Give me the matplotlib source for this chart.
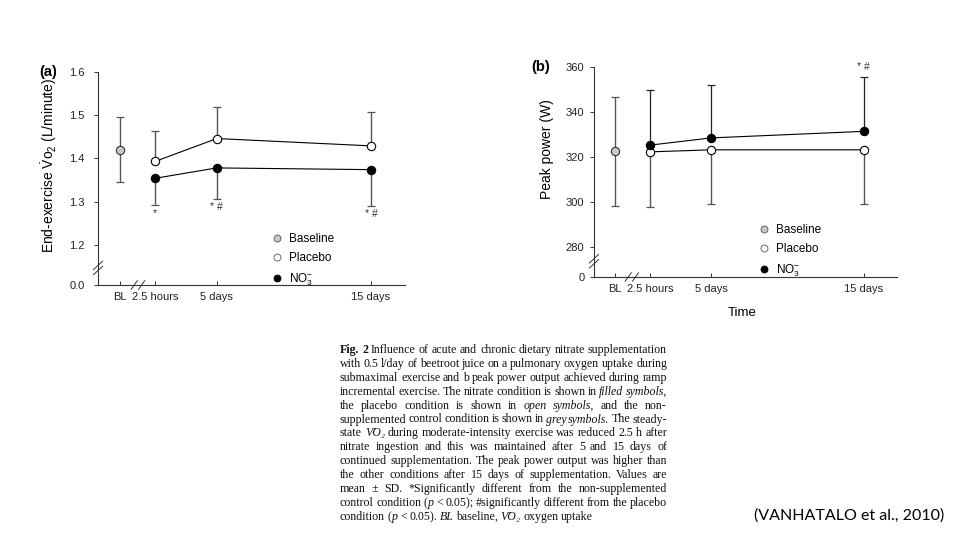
import matplotlib
matplotlib.use("Agg")
import matplotlib.pyplot as plt
from matplotlib.lines import Line2D

plt.rcParams['font.family'] = ['Liberation Sans', 'DejaVu Sans']
plt.rcParams['mathtext.fontset'] = 'custom'
plt.rcParams['mathtext.rm'] = 'Liberation Sans'
plt.rcParams['mathtext.it'] = 'Liberation Sans:italic'

# ---------------- data ----------------
time_labels = ['BL', '2.5 hours', '5 days', '15 days']
bl_x = -1.3            # baseline sits left of the axis break
time_x = [1, 5, 15]    # roughly days after start

# (a) end-exercise VO2 (L/min)
a_base, a_base_sd = 1.42, 0.075
a_plac = [1.393, 1.446, 1.429]
a_plac_sd = [0.070, 0.072, 0.079]
a_no3 = [1.354, 1.378, 1.374]
a_no3_sd = [0.062, 0.072, 0.083]
a_marks = ['*', '* #', '* #']
a_yticks = [1.2, 1.3, 1.4, 1.5, 1.6]

# (b) peak power (W)
b_base, b_base_sd = 322.5, 24.3
b_plac = [322.3, 323.2, 323.2]
b_plac_sd = [24.3, 24.2, 24.2]
b_no3 = [325.3, 328.5, 331.4]
b_no3_sd = [24.6, 23.6, 24.0]
b_marks = ['', '', '* #']
b_yticks = [280, 300, 320, 340, 360]

# ~ starts italic, ^ starts bold (inside one word)
caption = [
    "^Fig. ^2 Influence of acute and chronic dietary nitrate supplementation",
    "with 0.5 l/day of beetroot juice on a pulmonary oxygen uptake during",
    "submaximal exercise and b peak power output achieved during ramp",
    "incremental exercise. The nitrate condition is shown in ~filled ~symbols,",
    "the placebo condition is shown in ~open ~symbols, and the non-",
    "supplemented control condition is shown in ~grey ~symbols. The steady-",
    "state ~V\u0307O\u2082 during moderate-intensity exercise was reduced 2.5 h after",
    "nitrate ingestion and this was maintained after 5 and 15 days of",
    "continued supplementation. The peak power output was higher than",
    "the other conditions after 15 days of supplementation. Values are",
    "mean \u00b1 SD. *Significantly different from the non-supplemented",
    "control condition (~p < 0.05); #significantly different from the placebo",
    "condition (~p < 0.05). ~BL baseline, ~V\u0307O\u2082 oxygen uptake",
]

ERR = '#555555'
GREY = '#c8c8c8'


def panel(ax, base, base_sd, plac, plac_sd, no3, no3_sd, y0, ytop, yticks,
          ylabel, up_group, break_y, break_x, ypad):
    # lines between the supplemented time points
    ax.plot(time_x, plac, '-', color='black', lw=0.8, zorder=2)
    ax.plot(time_x, no3, '-', color='black', lw=0.8, zorder=2)
    # one-sided error bars as in the original
    if up_group == 'plac':
        ax.errorbar(time_x, plac, yerr=[[0] * 3, plac_sd], fmt='none', ecolor=ERR,
                    elinewidth=1.0, capsize=3, capthick=0.9, zorder=1)
        ax.errorbar(time_x, no3, yerr=[no3_sd, [0] * 3], fmt='none', ecolor=ERR,
                    elinewidth=1.0, capsize=3, capthick=0.9, zorder=1)
    else:
        ax.errorbar(time_x, no3, yerr=[[0] * 3, no3_sd], fmt='none', ecolor='#222222',
                    elinewidth=0.9, capsize=3, capthick=0.9, zorder=1)
        ax.errorbar(time_x, plac, yerr=[plac_sd, [0] * 3], fmt='none', ecolor=ERR,
                    elinewidth=1.0, capsize=3, capthick=0.9, zorder=1)
    ax.errorbar([bl_x], [base], yerr=[base_sd], fmt='none', ecolor=ERR,
                elinewidth=1.0, capsize=3, capthick=0.9, zorder=1)
    ax.plot([bl_x], [base], 'o', ms=6, mfc=GREY, mec='#333333', mew=0.8, zorder=3)
    ax.plot(time_x, plac, 'o', ms=6, mfc='white', mec='black', mew=0.8, zorder=3)
    ax.plot(time_x, no3, 'o', ms=6, mfc='black', mec='black', mew=0.8, zorder=3)

    ax.set_ylim(y0, ytop)
    ax.set_xlim(-2.7, 17.2)
    ax.set_yticks([y0] + yticks)
    ax.set_xticks([bl_x] + time_x)
    ax.set_xticklabels(time_labels)
    for s in ['top', 'right']:
        ax.spines[s].set_visible(False)
    for s in ['left', 'bottom']:
        ax.spines[s].set_linewidth(0.8)
        ax.spines[s].set_color('#333333')
    ax.tick_params(axis='y', direction='out', length=3, width=0.7, labelsize=8,
                   colors='#333333', pad=ypad)
    ax.tick_params(axis='x', direction='in', length=3, width=0.7, labelsize=8,
                   colors='#333333', pad=5)
    for lab in ax.get_xticklabels() + ax.get_yticklabels():
        lab.set_color('#222222')
    ax.set_ylabel(ylabel, fontsize=10)

    # axis break marks
    kw = dict(transform=ax.transAxes, color='#333333', lw=0.7, clip_on=False)
    for d in (-0.012, 0.012):
        ax.plot([-0.015, 0.015], [break_y + d - 0.02, break_y + d + 0.02], **kw)
        ax.plot([break_x + d - 0.01, break_x + d + 0.01], [-0.02, 0.02], **kw)

    handles = [
        Line2D([], [], ls='none', marker='o', ms=5, mfc=GREY, mec='#555555', mew=0.6),
        Line2D([], [], ls='none', marker='o', ms=5, mfc='white', mec='#555555', mew=0.6),
        Line2D([], [], ls='none', marker='o', ms=5, mfc='black', mec='black', mew=0.6),
    ]
    return handles


fig = plt.figure(figsize=(9.6, 5.4), dpi=100)
fig.patch.set_facecolor('white')

ax1 = fig.add_axes([98 / 960, 1 - 285 / 540, 307 / 960, 213 / 540])
h = panel(ax1, a_base, a_base_sd, a_plac, a_plac_sd, a_no3, a_no3_sd,
          1.107, 1.6, a_yticks, r'End-exercise $\dot{\mathrm{V}}\mathrm{o}_2$ (L/minute)',
          'plac', 0.08, 0.13, 6.5)
ax1.set_yticklabels(['0.0'] + ['%.1f' % v for v in a_yticks])
ax1.yaxis.set_label_coords(-0.127, 0.56)
for x, y, sd, m in zip(time_x, a_no3, a_no3_sd, a_marks):
    ax1.text(x, y - sd - 0.008, m, ha='center', va='top', fontsize=7.5, color='#333333')
ax1.legend(h, ['Baseline', 'Placebo', r'NO$_3^{-}$'], loc='upper left',
           bbox_to_anchor=(0.55, 0.27), frameon=False, fontsize=8.5,
           handlelength=0.8, handletextpad=0.6, labelspacing=0.6, borderpad=0)

ax2 = fig.add_axes([594 / 960, 1 - 277 / 540, 303 / 960, 210 / 540])
h = panel(ax2, b_base, b_base_sd, b_plac, b_plac_sd, b_no3, b_no3_sd,
          266.7, 360, b_yticks, 'Peak power (W)', 'no3', 0.075, 0.125, 4)
ax2.set_yticklabels(['0'] + [str(v) for v in b_yticks])
ax2.yaxis.set_label_coords(-0.132, 0.61)
ax2.set_xlabel('Time', fontsize=9.5)
ax2.xaxis.set_label_coords(0.49, -0.145)
for x, y, sd, m in zip(time_x, b_no3, b_no3_sd, b_marks):
    ax2.text(x, y + sd + 2.5, m, ha='center', va='bottom', fontsize=7.5, color='#333333')
ax2.legend(h, ['Baseline', 'Placebo', r'NO$_3^{-}$'], loc='upper left',
           bbox_to_anchor=(0.525, 0.28), frameon=False, fontsize=8.5,
           handlelength=0.8, handletextpad=0.6, labelspacing=0.6, borderpad=0)

fig.text(48 / 960, 1 - 72 / 540, '(a)', fontsize=10.5, fontweight='bold', ha='center', va='center')
fig.text(541 / 960, 1 - 67 / 540, '(b)', fontsize=10.5, fontweight='bold', ha='center', va='center')

# ---------------- caption, justified word by word ----------------
renderer = fig.canvas.get_renderer()
x_left, x_right = 340, 667
serif = ['Liberation Serif', 'DejaVu Serif']


def word_parts(w):
    # split a word into (text, style, weight) pieces drawn side by side
    if '^' in w:
        pre, rest = w.split('^', 1)
        return [(p, 'normal', wt) for p, wt in ((pre, 'normal'), (rest, 'bold')) if p]
    if '~' in w:
        pre, rest = w.split('~', 1)
        return [(p, st, 'normal') for p, st in ((pre, 'normal'), (rest, 'italic')) if p]
    return [(w, 'normal', 'normal')]


for i, line in enumerate(caption):
    y = 1 - (350 + i * 13.9) / 540
    words = []
    for w in line.split(' '):
        objs = []
        for txt, st, wt in word_parts(w):
            objs.append(fig.text(0, y, txt, fontsize=8.6, family=serif, style=st,
                                 fontweight=wt, ha='left', va='center', color='#111111'))
        widths = [t.get_window_extent(renderer).width for t in objs]
        words.append((objs, widths))
    total = sum(sum(ws) for _, ws in words)
    if i < len(caption) - 1 and len(words) > 1:
        gap = (x_right - x_left - total) / (len(words) - 1)
    else:
        gap = 2.6
    x = x_left
    for objs, widths in words:
        for t, wd in zip(objs, widths):
            t.set_x(x / 960)
            x += wd
        x += gap

fig.text(944 / 960, 1 - 516 / 540, '(VANHATALO et al., 2010)', fontsize=11.5,
         family=['Lato', 'DejaVu Sans'], ha='right', va='center', color='black')

fig.savefig('out.png', dpi=100, facecolor='white')
